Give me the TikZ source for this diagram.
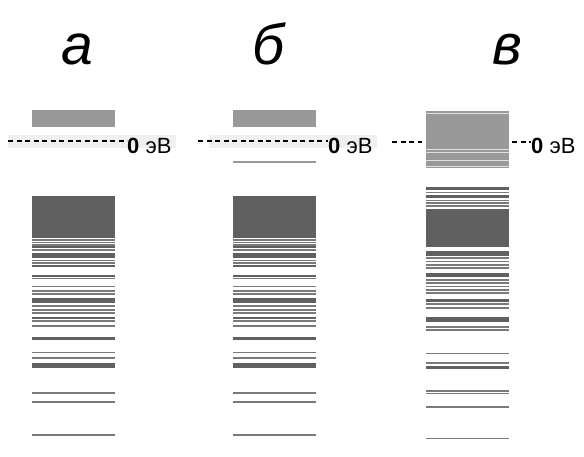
\documentclass[tikz,border=0pt]{standalone}
\usepackage{fontspec}
\setmainfont{Liberation Sans}
\usetikzlibrary{positioning}
\definecolor{bandlight}{HTML}{999999}
\definecolor{banddark}{HTML}{606060}
\definecolor{levelgray}{HTML}{7A7A7A}
\tikzset{
  band.top/.style={fill=bandlight, draw=none},
  band.dark/.style={fill=banddark, draw=none},
  level/.style={draw=levelgray, line width=1.6pt},
  level.dark/.style={draw=banddark, line width=2.4pt},
  level.gap/.style={draw=white!70!bandlight, line width=0.9pt},
  zero.line/.style={dash pattern=on 5pt off 3.5pt, line width=2pt, black},
  zero.halo/.style={fill=black!6, draw=none},
  panel.label/.style={font=\fontsize{57}{60}\selectfont\itshape, inner sep=0pt, anchor=base},
  zero.label/.style={font=\fontsize{22}{24}\selectfont, inner sep=0pt, anchor=base west}
}

\begin{document}
\begin{tikzpicture}[x=1pt,y=-1pt]
\useasboundingbox (0,0) rectangle (584,457);

% panel letters
\node[panel.label] (la) at (77,65) {а};
\node[panel.label] (lb) at (269,65) {б};
\node[panel.label] (lv) at (507,65) {в};

% columns a and b share the same level scheme
\foreach \x in {32,233}{
  \fill[zero.halo] (\x-24,135) rectangle ++(168,13);
  \fill[band.top] (\x,110.5) rectangle ++(83,16.5);
  \fill[band.dark] (\x,196.5) rectangle ++(83,41.5);
  \foreach \y/\h in {253/5, 298/4.7, 336.7/3.3, 363/5}
    \fill[band.dark] (\x,\y) rectangle ++(83,\h);
  \foreach \y in {247.3, 266, 276, 317.7}
    \draw[level.dark] (\x,\y) -- ++(83,0);
  \foreach \y in {240, 242.7, 245, 250, 260.7, 263, 278.5, 286.7, 291, 294, 306, 310, 313, 321, 326, 352.3, 358, 392.7, 402, 435}
    \draw[level] (\x,\y) -- ++(83,0);
}

% zero level, a
\coordinate (za) at (8,141);
\node[zero.label] (ea) at (127,154) {\textbf{0} эВ};
\draw[zero.line] (za) -- (za -| ea.west);

% zero level, b
\coordinate (zb) at (198,141.5);
\node[zero.label] (eb) at (328,154) {\textbf{0} эВ};
\draw[zero.line] (zb) -- (zb -| eb.west);
\draw[draw=bandlight, line width=2.2pt] (233,161.7) -- ++(83,0);

% column v
\fill[band.top] (426,110.7) rectangle (509,168.3);
\foreach \y in {113.3, 149.3, 152.7, 160, 166}
  \draw[level.gap] (426,\y) -- ++(83,0);
\coordinate (zv) at (392,141.7);
\coordinate (zv1) at (422,141.7);
\coordinate (zv2) at (512,141.7);
\node[zero.label] (ev) at (531,154) {\textbf{0} эВ};
\draw[zero.line] (zv) -- (zv1);
\draw[zero.line] (zv2) -- (zv2 -| ev.west);

\foreach \y/\h in {187.3/2.7, 195/3, 209.3/37.4, 250.7/5.3, 273.3/3.4, 299/2.7, 317.3/4.4}
  \fill[band.dark] (426,\y) rectangle ++(83,\h);
\draw[level.dark] (426,367.3) -- ++(83,0);
\foreach \y in {192.7, 200.7, 203.3, 206, 258.3, 261.7, 265, 268.3, 280, 283.3, 286.7, 290, 293.3, 304, 308.3, 326.7, 330, 353.3, 362.7, 390.7, 393.3, 406.7, 438.3}
  \draw[level] (426,\y) -- ++(83,0);
\end{tikzpicture}
\end{document}
